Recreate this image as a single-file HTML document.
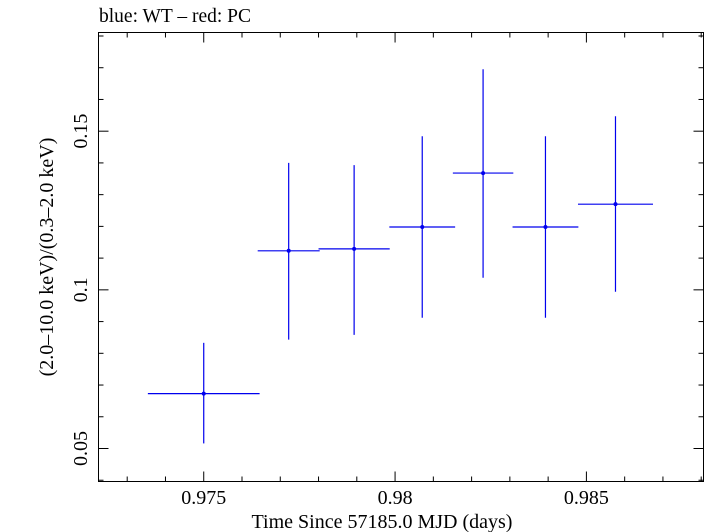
<!DOCTYPE html>
<html><head><meta charset="utf-8">
<style>
body{margin:0;background:#fff;}
svg{display:block;font-family:"Liberation Serif",serif;}
</style></head>
<body>
<svg id="chart" width="705" height="532" xmlns="http://www.w3.org/2000/svg">
<text x="99" y="22" font-size="19.5">blue: WT – red: PC</text>
<rect x="98.5" y="32.5" width="605" height="449" fill="none" stroke="#000" stroke-width="1"/>
<g id="ticks"></g>
<g id="marks"></g>
<text x="382" y="528" font-size="20" text-anchor="middle">Time Since 57185.0 MJD (days)</text>
<text transform="translate(53,257) rotate(-90)" font-size="20" text-anchor="middle">(2.0–10.0 keV)/(0.3–2.0 keV)</text>
</svg>
<script>
const xVals=[0.975,0.97722,0.97893,0.98071,0.9823,0.98393,0.98576];
const xErr=[0.00146,0.00081,0.00093,0.00086,0.00079,0.00086,0.00098];
const yVals=[0.0673,0.1123,0.1129,0.1198,0.1368,0.1198,0.127];
const yHi=[0.0833,0.140,0.1393,0.1484,0.1695,0.1484,0.1547];
const yLo=[0.0516,0.0843,0.0858,0.0912,0.1038,0.0912,0.0994];
const xTicks=[0.975,0.98,0.985];
const xTickLabels=["0.975","0.98","0.985"];
const yTicks=[0.05,0.1,0.15];
const yTickLabels=["0.05","0.1","0.15"];
const L=98.5,R=703.5,T=32.5,B=481.5;
const x0=0.97225,x1=0.98806,y0=0.0396,y1=0.1811;
const X=v=>L+(v-x0)/(x1-x0)*(R-L);
const Y=v=>B-(v-y0)/(y1-y0)*(B-T);
const NS="http://www.w3.org/2000/svg";
function mk(tag,attrs,parent){const e=document.createElementNS(NS,tag);for(const k in attrs)e.setAttribute(k,attrs[k]);parent.appendChild(e);return e;}
const tg=document.getElementById('ticks');
for(let i=0;i<=16;i++){const v=0.972+i*0.001;if(v<x0||v>x1)continue;const px=X(v);
 const major=Math.abs(Math.round(v*200)-v*200)<1e-6;const len=major?10:5;
 const a=mk('line',{x1:px,x2:px,y1:B,y2:B-len,stroke:'#000'},tg);
 
 const b=mk('line',{x1:px,x2:px,y1:T,y2:T+len,stroke:'#000'},tg);
 }
for(let i=3;i<=19;i++){const v=i*0.01;if(v<y0||v>y1)continue;const py=Y(v);
 const major=i%5===0;const len=major?10:5;
 const a=mk('line',{x1:L,x2:L+len,y1:py,y2:py,stroke:'#000'},tg);
 
 const b=mk('line',{x1:R,x2:R-len,y1:py,y2:py,stroke:'#000'},tg);
 }
xTicks.forEach((v,i)=>{const t=mk('text',{x:X(v),y:504,'font-size':20,'text-anchor':'middle'},tg);t.textContent=xTickLabels[i];
 });
yTicks.forEach((v,i)=>{const t=mk('text',{transform:`translate(87,${Y(v)}) rotate(-90)`,'font-size':20,'text-anchor':'middle'},tg);t.textContent=yTickLabels[i];
 });
const mg=document.getElementById('marks');
xVals.forEach((v,i)=>{
 const h=mk('line',{x1:X(v-xErr[i]),x2:X(v+xErr[i]),y1:Y(yVals[i]),y2:Y(yVals[i]),stroke:'#0000ee','stroke-width':1.2},mg);
 
 const vv=mk('line',{x1:X(v),x2:X(v),y1:Y(yHi[i]),y2:Y(yLo[i]),stroke:'#0000ee','stroke-width':1.2},mg);
 
 const c=mk('circle',{cx:X(v),cy:Y(yVals[i]),r:2,fill:'#0000ee'},mg);
 
});
</script>
</body></html>
